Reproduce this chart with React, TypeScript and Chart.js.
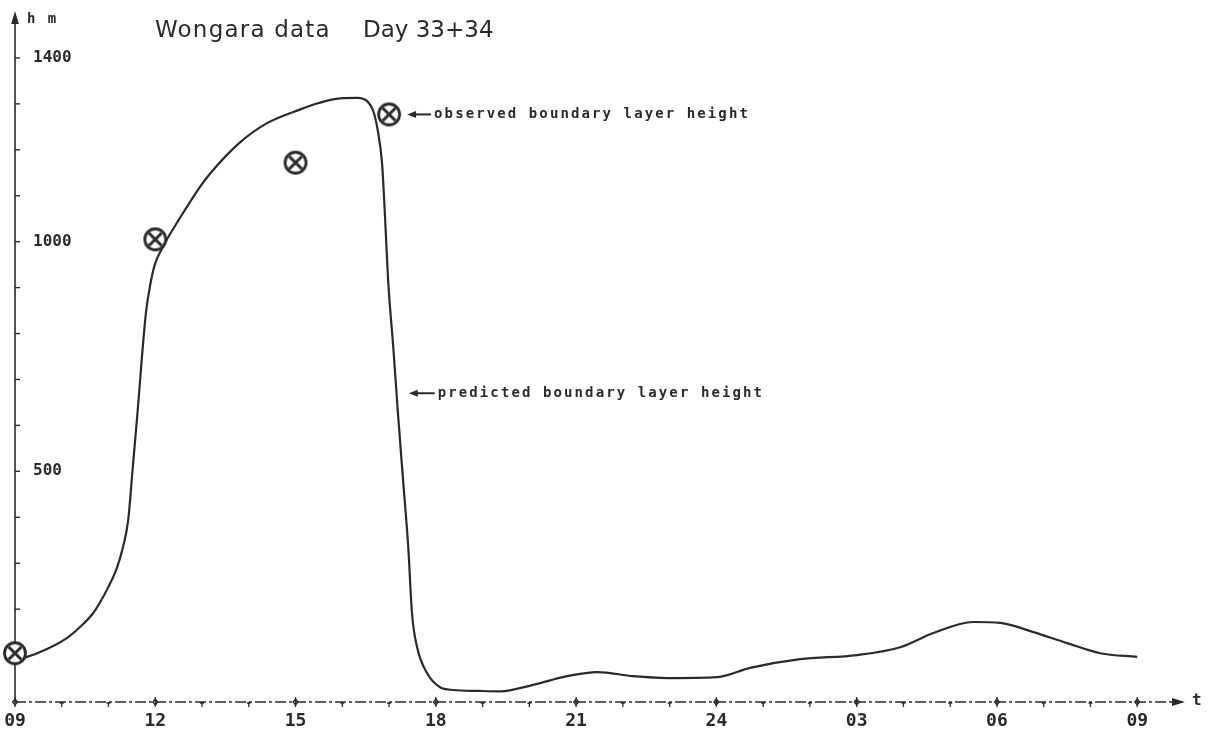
import { useEffect, useRef } from 'react';
import { Chart, registerables } from 'chart.js';

Chart.register(...registerables);

// Predicted boundary layer height (hm) against hours elapsed since 09 on day 33
const predictedHours = [
  0, 0.5, 1.11, 1.39, 1.67, 1.82, 1.97, 2.18, 2.31, 2.42, 2.52, 2.63, 2.72, 2.8, 2.89, 2.99,
  3.17, 3.53, 3.96, 4.17, 4.8, 5.39, 6.1, 6.5, 6.95, 7.32, 7.53, 7.66, 7.76, 7.85, 7.91, 7.98,
  8.09, 8.19, 8.3, 8.41, 8.49, 8.6, 8.81, 9.09, 9.37, 9.9, 10.37, 11.08, 11.81, 12.45, 13.22,
  13.95, 15.02, 15.72, 16.79, 18.01, 18.93, 19.64, 20.49, 21.07, 21.78, 22.5, 23.21, 24,
];
const predictedHeights = [
  88, 105, 137, 161, 191, 215, 243, 290, 335, 393, 510, 640, 755, 845, 905, 950,
  990, 1052, 1120, 1148, 1215, 1258, 1288, 1302, 1312, 1313, 1306, 1285, 1241, 1170, 1061, 915,
  770, 626, 480, 335, 191, 117, 61, 30, 24, 22, 21, 35, 54, 63, 54,
  50, 52, 72, 91, 100, 117, 148, 172, 170, 150, 126, 104, 96,
];

// Observed soundings
const observedHours = [0, 3, 6, 8];
const observedHeights = [104, 1005, 1172, 1277];

const hourTickLabels = ['09', '12', '15', '18', '21', '24', '03', '06', '09'];
const heightTickLabels = [500, 1000, 1400];

const titleMain = 'Wongara data';
const titleDays = 'Day 33+34';
const observedLabel = 'observed boundary layer height';
const predictedLabel = 'predicted boundary layer height';
const yUnitLabel = 'h m';
const xUnitLabel = 't';

// where the "predicted" pointer touches the curve
const predictedPointerHour = 8.42;
const predictedPointerHeight = 670;

const INK = '#2a2a2a';
const MONO = '"DejaVu Sans Mono", monospace';

function makeMarker(): HTMLCanvasElement {
  const c = document.createElement('canvas');
  c.width = 28;
  c.height = 28;
  const g = c.getContext('2d')!;
  g.translate(14, 14);
  g.fillStyle = '#ffffff';
  g.strokeStyle = INK;
  g.lineWidth = 2.8;
  g.beginPath();
  g.arc(0, 0, 10.5, 0, Math.PI * 2);
  g.fill();
  g.stroke();
  g.lineWidth = 3;
  g.beginPath();
  g.moveTo(-6.3, -6.3);
  g.lineTo(6.3, 6.3);
  g.moveTo(6.3, -6.3);
  g.lineTo(-6.3, 6.3);
  g.stroke();
  return c;
}

function leftPointer(ctx: CanvasRenderingContext2D, tipX: number, y: number, len: number) {
  ctx.beginPath();
  ctx.moveTo(tipX, y);
  ctx.lineTo(tipX + 9, y - 3.5);
  ctx.lineTo(tipX + 9, y + 3.5);
  ctx.closePath();
  ctx.fill();
  ctx.lineWidth = 2;
  ctx.beginPath();
  ctx.moveTo(tipX + 6, y);
  ctx.lineTo(tipX + len, y);
  ctx.stroke();
}

const plotterAxes = {
  id: 'plotterAxes',
  beforeDatasetsDraw(chart: any) {
    const { ctx, chartArea } = chart;
    const x = chart.scales.x;
    const y = chart.scales.y;
    const x0 = x.getPixelForValue(0);
    const y0 = y.getPixelForValue(0);
    ctx.save();
    ctx.strokeStyle = INK;
    ctx.fillStyle = INK;

    // vertical axis with arrow
    ctx.lineWidth = 1.6;
    ctx.beginPath();
    ctx.moveTo(x0, y0 + 1);
    ctx.lineTo(x0, chartArea.top + 8);
    ctx.stroke();
    ctx.beginPath();
    ctx.moveTo(x0, chartArea.top - 1);
    ctx.lineTo(x0 - 3.8, chartArea.top + 12);
    ctx.lineTo(x0 + 3.8, chartArea.top + 12);
    ctx.closePath();
    ctx.fill();

    // inward ticks every 100 hm
    ctx.lineWidth = 1.4;
    y.ticks.forEach((t: any) => {
      if (t.value <= 0 || t.value > 1400) return;
      const py = y.getPixelForValue(t.value);
      ctx.beginPath();
      ctx.moveTo(x0, py);
      ctx.lineTo(x0 + 5, py);
      ctx.stroke();
    });

    // time axis, drawn broken like a worn plotter pen
    ctx.lineWidth = 1.3;
    ctx.setLineDash([11, 3, 3, 3]);
    ctx.beginPath();
    ctx.moveTo(x0, y0 + 1);
    ctx.lineTo(chartArea.right - 10, y0 + 1);
    ctx.stroke();
    ctx.setLineDash([]);
    ctx.beginPath();
    ctx.moveTo(chartArea.right + 1, y0 + 1);
    ctx.lineTo(chartArea.right - 12, y0 - 3);
    ctx.lineTo(chartArea.right - 12, y0 + 5);
    ctx.closePath();
    ctx.fill();

    // hour ticks, with a cross mark every third hour
    x.ticks.forEach((t: any) => {
      const h = t.value;
      if (h > (hourTickLabels.length - 1) * 3) return;
      const px = x.getPixelForValue(h);
      ctx.lineWidth = 1.3;
      if (h % 3 === 0) {
        ctx.beginPath();
        ctx.moveTo(px, y0 - 4);
        ctx.lineTo(px, y0 + 6);
        ctx.stroke();
        ctx.beginPath();
        ctx.moveTo(px, y0 - 2);
        ctx.lineTo(px + 2.5, y0 + 1);
        ctx.lineTo(px, y0 + 4);
        ctx.lineTo(px - 2.5, y0 + 1);
        ctx.closePath();
        ctx.stroke();
      } else {
        ctx.beginPath();
        ctx.moveTo(px, y0 + 1);
        ctx.lineTo(px, y0 + 6);
        ctx.moveTo(px - 2, y0 + 2);
        ctx.lineTo(px + 2, y0 + 2);
        ctx.stroke();
      }
    });

    // unit labels
    ctx.textBaseline = 'middle';
    ctx.textAlign = 'left';
    ctx.font = `bold 14px ${MONO}`;
    (ctx as any).letterSpacing = '2px';
    ctx.fillText(yUnitLabel, x0 + 12, chartArea.top + 7);
    (ctx as any).letterSpacing = '0px';
    ctx.font = `bold 16px ${MONO}`;
    ctx.fillText(xUnitLabel, chartArea.right + 8, y0);
    ctx.restore();
  },
  afterDraw(chart: any) {
    const { ctx } = chart;
    const x = chart.scales.x;
    const y = chart.scales.y;
    ctx.save();
    ctx.fillStyle = INK;
    ctx.strokeStyle = INK;

    // title
    ctx.textAlign = 'left';
    ctx.textBaseline = 'alphabetic';
    ctx.font = `23px "DejaVu Sans", sans-serif`;
    (ctx as any).letterSpacing = '1.2px';
    ctx.fillText(titleMain, 155, 37);
    (ctx as any).letterSpacing = '0px';
    ctx.fillText(titleDays, 363, 37);

    // pointer notes
    ctx.font = `bold 14px ${MONO}`;
    ctx.textBaseline = 'middle';
    (ctx as any).letterSpacing = '2.1px';

    const i = observedHours.length - 1;
    const ox = x.getPixelForValue(observedHours[i]);
    const oy = y.getPixelForValue(observedHeights[i]);
    leftPointer(ctx, ox + 18, oy, 24);
    ctx.fillText(observedLabel, ox + 45, oy);

    const px = x.getPixelForValue(predictedPointerHour);
    const py = y.getPixelForValue(predictedPointerHeight);
    leftPointer(ctx, px, py, 26);
    ctx.fillText(predictedLabel, px + 29, py);
    ctx.restore();
  },
};

export default function App() {
  const canvasRef = useRef<HTMLCanvasElement | null>(null);

  useEffect(() => {
    const canvas = canvasRef.current;
    if (!canvas) return;
    const marker = makeMarker();

    const chart = new Chart(canvas, {
      type: 'line',
      data: {
        datasets: [
          {
            label: 'predicted',
            data: predictedHours.map((h, k) => ({ x: h, y: predictedHeights[k] })),
            borderColor: INK,
            borderWidth: 2.2,
            pointRadius: 0,
            cubicInterpolationMode: 'monotone',
            fill: false,
            clip: false,
            order: 2,
          },
          {
            label: 'observed',
            data: observedHours.map((h, k) => ({ x: h, y: observedHeights[k] })),
            showLine: false,
            pointStyle: marker,
            pointRadius: 11,
            clip: false,
            order: 1,
          },
        ],
      },
      options: {
        animation: false,
        responsive: false,
        events: [],
        layout: { padding: { left: 15, right: 29, top: 11, bottom: 0 } },
        plugins: {
          legend: { display: false },
          tooltip: { enabled: false },
          title: { display: false },
        },
        scales: {
          x: {
            type: 'linear',
            min: 0,
            max: 25,
            grid: { display: false, drawTicks: false },
            border: { display: false },
            afterFit: (s: any) => {
              s.height = 36;
              s.paddingLeft = 0;
              s.paddingRight = 0;
            },
            ticks: {
              stepSize: 1,
              autoSkip: false,
              maxRotation: 0,
              padding: 10,
              color: INK,
              font: { family: MONO, size: 18, weight: 'bold' },
              callback: (v: any) => {
                const n = Number(v);
                return n % 3 === 0 && n / 3 < hourTickLabels.length ? hourTickLabels[n / 3] : '';
              },
            },
          },
          y: {
            type: 'linear',
            min: 0,
            max: 1500,
            grid: { display: false, drawTicks: false },
            border: { display: false },
            afterFit: (s: any) => {
              s.width = 0;
              s.paddingTop = 0;
              s.paddingBottom = 0;
            },
            ticks: {
              stepSize: 100,
              mirror: true,
              padding: 18,
              color: INK,
              font: { family: MONO, size: 16, weight: 'bold' },
              callback: (v: any) => (heightTickLabels.includes(Number(v)) ? String(v) : ''),
            },
          },
        },
      },
      plugins: [plotterAxes],
    } as any);

    return () => chart.destroy();
  }, []);

  return (
    <div style={{ position: 'fixed', left: 0, top: 0, width: 1213, height: 737, background: '#fff' }}>
      <canvas ref={canvasRef} width={1213} height={737} style={{ display: 'block' }} />
    </div>
  );
}
